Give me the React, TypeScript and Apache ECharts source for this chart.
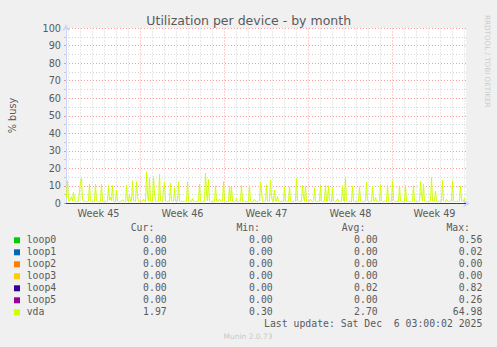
import React, { useEffect, useRef } from 'react';
import * as echarts from 'echarts';

// ---- data ----
const deviceNames = ['loop0', 'loop1', 'loop2', 'loop3', 'loop4', 'loop5', 'vda'];
const deviceColors = ['#00cc00', '#0066b3', '#ff8000', '#ffcc00', '#330099', '#990099', '#ccff00'];
const curValues = [0, 0, 0, 0, 0, 0, 1.97];
const minValues = [0, 0, 0, 0, 0, 0, 0.3];
const avgValues = [0, 0, 0, 0, 0.02, 0, 2.7];
const maxValues = [0.56, 0.02, 0, 0, 0.82, 0.26, 64.98];

// hours since graph start (graph covers 800 h, one sample every 2 h)
const periodHours = 800;
const stepHours = 2;
const loopTimes = [0, 800];
const loopValues = [0, 0];

// vda utilisation (% busy), 2-hour averages
const vdaValues = [
  3.5, 12.9, 1.6, 1.3, 2.5, 3.9, 1.4, 6.4, 3.0, 1.2, 1.1, 1.3, 1.2, 7.0, 12.3, 14.4, 2.5, 1.2, 1.1, 1.3,
  1.2, 1.0, 1.4, 11.0, 1.5, 1.2, 1.1, 1.3, 1.2, 11.0, 1.6, 1.2, 1.0, 1.3, 1.2, 11.1, 1.4, 1.1, 1.2, 1.0,
  1.3, 1.2, 10.6, 1.8, 3.5, 1.5, 10.4, 1.3, 1.1, 1.2, 7.7, 1.4, 1.2, 1.1, 1.3, 1.2, 2.2, 1.3, 1.1, 1.2,
  10.6, 1.5, 1.2, 5.0, 1.3, 1.2, 13.0, 1.6, 1.2, 1.1, 12.4, 4.0, 1.3, 1.2, 1.1, 1.3, 1.2, 2.5, 1.3, 1.2,
  17.8, 5.0, 1.3, 14.6, 1.5, 1.2, 1.4, 15.3, 6.0, 1.3, 1.2, 1.1, 1.3, 16.7, 1.6, 1.2, 1.1, 8.0, 12.0, 1.4,
  1.2, 1.1, 1.3, 1.2, 11.7, 1.5, 1.2, 1.3, 9.0, 1.4, 1.2, 1.1, 12.2, 1.5, 1.2, 1.3, 1.1, 1.2, 1.3, 1.2,
  1.1, 12.1, 1.5, 1.2, 1.3, 1.1, 2.8, 1.3, 1.2, 1.1, 1.3, 1.2, 1.4, 11.1, 1.5, 1.2, 1.1, 1.3, 1.2, 17.4,
  6.0, 1.4, 13.6, 1.5, 1.2, 1.1, 1.3, 1.2, 1.1, 10.2, 1.4, 1.2, 1.3, 2.5, 1.2, 1.1, 1.3, 12.6, 1.5, 1.2,
  1.1, 1.3, 1.2, 9.6, 1.4, 9.4, 1.3, 1.2, 1.1, 1.3, 3.0, 1.2, 1.1, 1.3, 1.2, 10.2, 1.4, 1.2, 1.1, 1.3,
  1.2, 1.1, 1.3, 10.2, 1.5, 1.2, 1.1, 1.3, 2.4, 1.2, 1.1, 1.3, 1.2, 1.4, 12.1, 7.7, 1.3, 1.2, 1.1, 1.3,
  10.6, 1.4, 1.2, 1.3, 13.4, 4.0, 1.3, 1.2, 7.7, 1.4, 1.2, 4.0, 1.3, 1.2, 1.1, 1.3, 1.2, 1.1, 9.6, 1.4,
  1.2, 1.3, 1.1, 9.6, 1.4, 1.2, 1.1, 1.3, 1.2, 1.4, 14.2, 1.6, 1.2, 1.1, 1.3, 1.2, 10.2, 4.0, 1.3, 10.0,
  1.4, 1.2, 1.1, 1.3, 2.5, 1.2, 1.1, 1.3, 9.2, 1.4, 1.2, 1.1, 1.3, 1.2, 10.4, 1.4, 1.2, 1.1, 1.3, 10.2,
  1.4, 1.2, 10.2, 1.4, 1.2, 1.1, 9.2, 1.4, 1.2, 1.1, 1.3, 2.6, 1.2, 1.1, 1.3, 1.2, 10.2, 1.5, 1.2, 14.6,
  1.6, 1.2, 1.1, 1.3, 1.2, 1.1, 9.8, 1.4, 1.2, 1.1, 1.3, 1.2, 1.1, 9.6, 1.4, 1.2, 1.1, 1.3, 1.2, 1.4,
  12.1, 1.5, 1.2, 1.1, 1.3, 1.2, 10.0, 1.4, 1.2, 3.5, 1.3, 1.2, 1.1, 1.3, 10.8, 1.5, 1.2, 1.1, 1.3, 1.2,
  1.1, 10.4, 1.4, 1.2, 1.1, 1.3, 13.0, 1.6, 1.2, 1.1, 1.3, 1.2, 1.1, 10.2, 1.4, 1.2, 1.1, 1.3, 1.2, 10.4,
  1.4, 1.2, 1.1, 1.3, 1.2, 1.1, 1.3, 10.2, 1.4, 1.2, 1.1, 1.3, 1.2, 1.1, 12.5, 5.0, 1.3, 11.1, 1.4, 1.2,
  1.1, 1.3, 1.2, 1.1, 1.3, 15.0, 1.6, 1.2, 1.3, 7.1, 1.4, 1.2, 1.1, 1.3, 1.2, 1.1, 13.3, 1.5, 1.2, 1.1,
  2.5, 1.3, 1.2, 1.1, 1.3, 1.2, 13.0, 1.5, 1.2, 1.1, 1.3, 1.2, 1.1, 1.3, 10.1, 1.4, 1.2, 1.1, 3.0, 2.0,
];

// grid lines (hours since start): midnights and week boundaries
const dayLineHours = [5, 29, 53, 77, 101, 125, 173, 197, 221, 245, 269, 293, 341, 365, 389, 413, 437, 461,
  509, 533, 557, 581, 605, 629, 677, 701, 725, 749, 773, 797];
const weekLineHours = [149, 317, 485, 653];
const weekLabelHours = [65, 233, 401, 569, 737];
const weekLabels = ['Week 45', 'Week 46', 'Week 47', 'Week 48', 'Week 49'];

const titleText = 'Utilization per device - by month';
const yAxisTitle = '% busy';
const lastUpdate = 'Last update: Sat Dec  6 03:00:02 2025';
const footer = 'Munin 2.0.73';
const sideText = 'RRDTOOL / TOBI OETIKER';

const FONT = '"DejaVu Sans", sans-serif';
const MONO = '"DejaVu Sans Mono", monospace';
const TEXT_COLOR = '#5a5a5a';
const RED_GRID = 'rgba(255,0,0,0.38)';
const GREY_GRID = 'rgba(128,128,128,0.35)';
const AXIS_COLOR = '#CFD6F8';

function txt(text: string, x: number, y: number, align: string, font: string, fill: string, extra: any = {}) {
  return {
    type: 'text',
    x,
    y,
    silent: true,
    ...extra,
    style: { text, font, fill, align, verticalAlign: 'middle', textAlign: align, textVerticalAlign: 'middle' },
  };
}

export default function App() {
  const ref = useRef<HTMLDivElement>(null);

  useEffect(() => {
    if (!ref.current) return;
    const chart = echarts.init(ref.current, undefined, { renderer: 'svg' });

    const legendFont = '9.8px ' + MONO;
    const rowY0 = 239.3;
    const rowStep = 12;
    const fmt = (v: number) => v.toFixed(2);

    const graphics: any[] = [];
    graphics.push(txt(titleText, 248.7, 20, 'center', '12.5px ' + FONT, TEXT_COLOR));
    graphics.push(txt(yAxisTitle, 12, 115.5, 'center', '9.7px ' + FONT, TEXT_COLOR, { rotation: Math.PI / 2 }));
    graphics.push(txt(sideText, 487, 15, 'left', '7.2px ' + FONT, '#cccccc', { rotation: -Math.PI / 2 }));

    const headers = ['Cur:', 'Min:', 'Avg:', 'Max:'];
    const headerRight = [154.3, 260, 365.3, 470];
    const valueRight = [166.7, 272.7, 377.7, 482.3];
    headers.forEach((h, i) => graphics.push(txt(h, headerRight[i], 227.3, 'right', legendFont, TEXT_COLOR)));
    deviceNames.forEach((name, k) => {
      const y = rowY0 + rowStep * k;
      graphics.push({ type: 'rect', silent: true, shape: { x: 14, y: y - 2, width: 6, height: 6 }, style: { fill: deviceColors[k] } });
      graphics.push(txt(name, 26.7, y, 'left', legendFont, TEXT_COLOR));
      const vals = [curValues[k], minValues[k], avgValues[k], maxValues[k]];
      vals.forEach((v, j) => graphics.push(txt(fmt(v), valueRight[j], y, 'right', legendFont, TEXT_COLOR)));
    });
    graphics.push(txt(lastUpdate, 482.3, 323.3, 'right', legendFont, TEXT_COLOR));
    graphics.push(txt(footer, 248, 336.5, 'center', '7.5px ' + FONT, '#c8c8c8'));

    const loopSeries = deviceNames.slice(0, 6).map((name, k) => ({
      name,
      type: 'line',
      data: loopTimes.map((t, i) => [t, loopValues[i]]),
      symbol: 'none',
      lineStyle: { color: deviceColors[k], width: 1 },
      itemStyle: { color: deviceColors[k] },
      z: 10,
      silent: true,
    }));

    const vdaSeries = {
      name: 'vda',
      type: 'line',
      data: vdaValues.map((v, i) => [i * stepHours + 1, v]),
      symbol: 'none',
      lineStyle: { color: deviceColors[6], width: 1 },
      itemStyle: { color: deviceColors[6] },
      z: 11,
      silent: true,
    };

    const gridSeries = {
      name: 'grid',
      type: 'line',
      data: [],
      z: 1,
      silent: true,
      markLine: {
        silent: true,
        z: 1,
        symbol: ['none', 'none'],
        label: { show: false },
        emphasis: { disabled: true },
        data: [
          ...dayLineHours.map((h) => ({ xAxis: h, lineStyle: { color: GREY_GRID, width: 1, type: [1, 2] } })),
          ...weekLineHours.map((h) => ({ xAxis: h, lineStyle: { color: RED_GRID, width: 1, type: [1, 2] } })),
        ],
      },
    };

    chart.setOption({
      animation: false,
      backgroundColor: '#f0f0f0',
      grid: {
        left: 66,
        right: 31,
        top: 28,
        bottom: 143.5,
        show: true,
        backgroundColor: '#ffffff',
        borderWidth: 0,
      },
      xAxis: {
        type: 'value',
        min: 0,
        max: periodHours,
        axisLine: {
          show: true,
          onZero: false,
          symbol: ['none', 'arrow'],
          symbolSize: [6, 7],
          symbolOffset: [0, 4],
          lineStyle: { color: AXIS_COLOR, width: 1 },
        },
        axisTick: { show: false },
        splitLine: { show: false },
        axisLabel: {
          customValues: weekLabelHours,
          formatter: (v: number) => {
            const idx = weekLabelHours.indexOf(Math.round(v));
            return idx >= 0 ? weekLabels[idx] : '';
          },
          margin: 5,
          color: TEXT_COLOR,
          fontSize: 9.7,
          fontFamily: FONT,
        },
      },
      yAxis: {
        type: 'value',
        min: 0,
        max: 100,
        interval: 10,
        axisLine: {
          show: true,
          symbol: ['none', 'arrow'],
          symbolSize: [6, 7],
          symbolOffset: [0, 4],
          lineStyle: { color: AXIS_COLOR, width: 1 },
        },
        axisTick: { show: true, length: 2, lineStyle: { color: RED_GRID } },
        minorTick: { show: true, splitNumber: 2, length: 2, lineStyle: { color: GREY_GRID } },
        axisLabel: { margin: 5, color: TEXT_COLOR, fontSize: 9.7, fontFamily: FONT },
        splitLine: { show: true, lineStyle: { color: RED_GRID, width: 1, type: [1, 2] } },
        minorSplitLine: { show: true, lineStyle: { color: GREY_GRID, width: 1, type: [1, 2] } },
      },
      series: [gridSeries, ...loopSeries, vdaSeries],
      graphic: graphics,
    });

    return () => chart.dispose();
  }, []);

  return (
    <div
      ref={ref}
      style={{ position: 'fixed', left: 0, top: 0, width: 497, height: 347, background: '#f0f0f0' }}
    />
  );
}
